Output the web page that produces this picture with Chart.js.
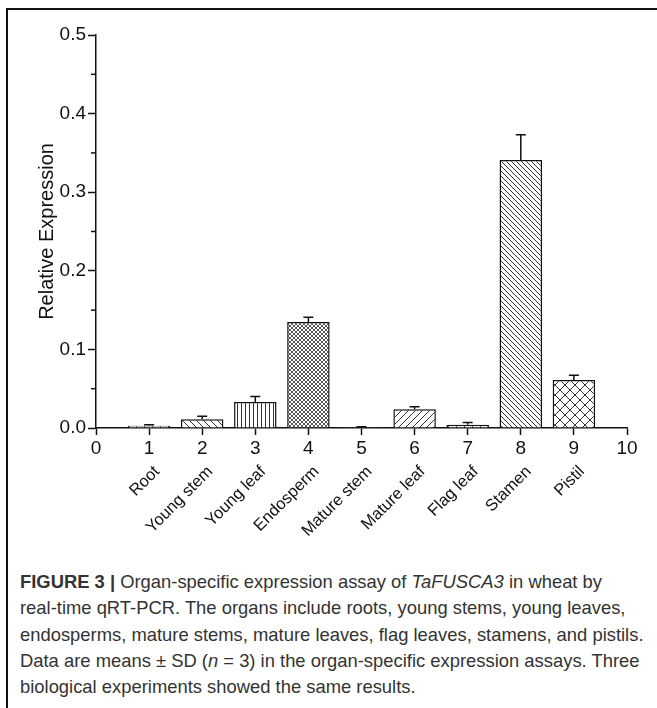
<!DOCTYPE html>
<html>
<head>
<meta charset="utf-8">
<script src="https://cdn.jsdelivr.net/npm/chart.js@4.4.1/dist/chart.umd.min.js"></script>
<style>
    body {
        margin: 0;
        width: 657px;
        height: 708px;
        overflow: hidden;
        position: relative;
        background: #fff;
        font-family: "Liberation Sans", Arial, sans-serif;
    }
    #frame {
        position: absolute;
        left: 6px;
        top: 8px;
        width: 700px;
        height: 760px;
        border-top: 2px solid #111;
        border-left: 2px solid #111;
    }
    #chartBox {
        position: absolute;
        left: 0;
        top: 0;
        width: 657px;
        height: 545px;
    }
    #caption {
        position: absolute;
        left: 20px;
        top: 569px;
        font-size: 18.4px;
        line-height: 26.3px;
        color: #333;
        white-space: nowrap;
    }
</style>
</head>
<body>
<div id="frame"></div>
<div id="chartBox"><canvas id="organChart" width="657" height="545"></canvas></div>
<div id="caption">
    <b>FIGURE 3 |</b> Organ-specific expression assay of <i>TaFUSCA3</i> in wheat by<br>
    real-time qRT-PCR. The organs include roots, young stems, young leaves,<br>
    endosperms, mature stems, mature leaves, flag leaves, stamens, and pistils.<br>
    Data are means &plusmn; SD (<i>n</i> = 3) in the organ-specific expression assays. Three<br>
    biological experiments showed the same results.
</div>
<script>
// Data
const positions = [1, 2, 3, 4, 5, 6, 7, 8, 9];
const organs = ['Root', 'Young stem', 'Young leaf', 'Endosperm', 'Mature stem',
                'Mature leaf', 'Flag leaf', 'Stamen', 'Pistil'];
const expression = [0.003, 0.011, 0.033, 0.135, 0.001, 0.024, 0.004, 0.341, 0.061];
const sd = [0.001, 0.004, 0.007, 0.006, 0.0005, 0.003, 0.003, 0.032, 0.006];
const hatches = ['brick', 'back', 'vertical', 'fineCross', 'brick',
                 'forward', 'brick', 'backDense', 'diamond'];
const minorTicks = [0.05, 0.15, 0.25, 0.35, 0.45];

// name axis labels sit on the 0..10 grid, empty at both ends
const nameLabels = [''].concat(organs, ['']);

// Hatch fills
function makePattern(kind) {
    const sizes = { brick: [8, 6], back: [7, 7], vertical: [4, 4], fineCross: [4, 4],
                    forward: [7, 7], backDense: [5, 5], diamond: [10, 10] };
    const [w, h] = sizes[kind];
    const c = document.createElement('canvas');
    c.width = w;
    c.height = h;
    const g = c.getContext('2d');
    g.fillStyle = '#fff';
    g.fillRect(0, 0, w, h);
    g.strokeStyle = kind === 'fineCross' ? '#444' : '#333';
    g.lineWidth = kind === 'fineCross' ? 0.9 : 1;
    g.beginPath();
    const back = () => {
        g.moveTo(-1, -1); g.lineTo(w + 1, h + 1);
        g.moveTo(-1, h - 1); g.lineTo(1, h + 1);
        g.moveTo(w - 1, -1); g.lineTo(w + 1, 1);
    };
    const fwd = () => {
        g.moveTo(-1, h + 1); g.lineTo(w + 1, -1);
        g.moveTo(-1, 1); g.lineTo(1, -1);
        g.moveTo(w - 1, h + 1); g.lineTo(w + 1, h - 1);
    };
    if (kind === 'brick') {
        g.moveTo(0, 2.5); g.lineTo(w, 2.5);
        g.moveTo(0.5, 0); g.lineTo(0.5, 2.5);
        g.moveTo(4.5, 2.5); g.lineTo(4.5, h);
    } else if (kind === 'vertical') {
        g.moveTo(1.5, 0); g.lineTo(1.5, h);
    } else if (kind === 'back' || kind === 'backDense') {
        back();
    } else if (kind === 'forward') {
        fwd();
    } else {
        back();
        fwd();
    }
    g.stroke();
    return document.getElementById('organChart').getContext('2d').createPattern(c, 'repeat');
}

const errorBars = {
    id: 'errorBars',
    afterDatasetsDraw(chart) {
        const { ctx, scales: { x, y } } = chart;
        ctx.save();
        ctx.strokeStyle = '#111';
        ctx.lineWidth = 1.5;
        positions.forEach((p, i) => {
            const px = x.getPixelForValue(p);
            const base = y.getPixelForValue(expression[i]);
            const top = y.getPixelForValue(expression[i] + sd[i]);
            ctx.beginPath();
            ctx.moveTo(px, base);
            ctx.lineTo(px, top);
            ctx.moveTo(px - 5, top);
            ctx.lineTo(px + 5, top);
            ctx.stroke();
        });
        ctx.restore();
    }
};

const minorTickMarks = {
    id: 'minorTickMarks',
    afterDraw(chart) {
        const { ctx, scales: { y } } = chart;
        ctx.save();
        ctx.strokeStyle = '#111';
        ctx.lineWidth = 1.5;
        minorTicks.forEach(v => {
            const py = y.getPixelForValue(v);
            ctx.beginPath();
            ctx.moveTo(y.right - 5, py);
            ctx.lineTo(y.right, py);
            ctx.stroke();
        });
        ctx.restore();
    }
};

const tickFont = { family: '"Liberation Sans", Arial, sans-serif', size: 19 };
const nameFont = { family: '"Liberation Sans", Arial, sans-serif', size: 16.5 };

new Chart(document.getElementById('organChart'), {
    type: 'bar',
    data: {
        datasets: [{
            data: positions.map((p, i) => ({ x: p, y: expression[i] })),
            backgroundColor: hatches.map(makePattern),
            borderColor: '#111',
            borderWidth: 1.5,
            barPercentage: 0.8,
            categoryPercentage: 1
        }]
    },
    options: {
        responsive: false,
        animation: false,
        layout: { padding: { top: 35, right: 30, left: 0, bottom: 0 } },
        plugins: {
            legend: { display: false },
            tooltip: { enabled: false }
        },
        scales: {
            x: {
                type: 'linear',
                min: 0,
                max: 10,
                offset: false,
                ticks: { stepSize: 1, color: '#111', font: tickFont, padding: 2, maxRotation: 0 },
                grid: { display: true, drawOnChartArea: false, offset: false, tickLength: 7,
                        color: '#111', tickWidth: 1.5 },
                border: { color: '#111', width: 1.5 },
                afterFit: s => { s.height = 34; }
            },
            names: {
                type: 'category',
                axis: 'x',
                position: 'bottom',
                labels: nameLabels,
                offset: false,
                ticks: { autoSkip: false, maxRotation: 45, minRotation: 45, color: '#111',
                         font: nameFont, padding: -8, labelOffset: 8 },
                grid: { display: false },
                border: { display: false },
                afterFit: s => { s.height = 545 - 428 - 34; }
            },
            y: {
                min: 0,
                max: 0.5,
                ticks: {
                    stepSize: 0.1,
                    color: '#111',
                    font: tickFont,
                    padding: 2,
                    callback: v => v.toFixed(1)
                },
                grid: { display: true, drawOnChartArea: false, tickLength: 8,
                        color: '#111', tickWidth: 1.5 },
                border: { color: '#111', width: 1.5 },
                title: {
                    display: true,
                    text: 'Relative Expression',
                    color: '#111',
                    font: { family: '"Liberation Sans", Arial, sans-serif', size: 20 },
                    padding: { top: 35, bottom: 0 }
                },
                afterFit: s => { s.width = 96; }
            }
        }
    },
    plugins: [errorBars, minorTickMarks]
});
</script>
</body>
</html>
